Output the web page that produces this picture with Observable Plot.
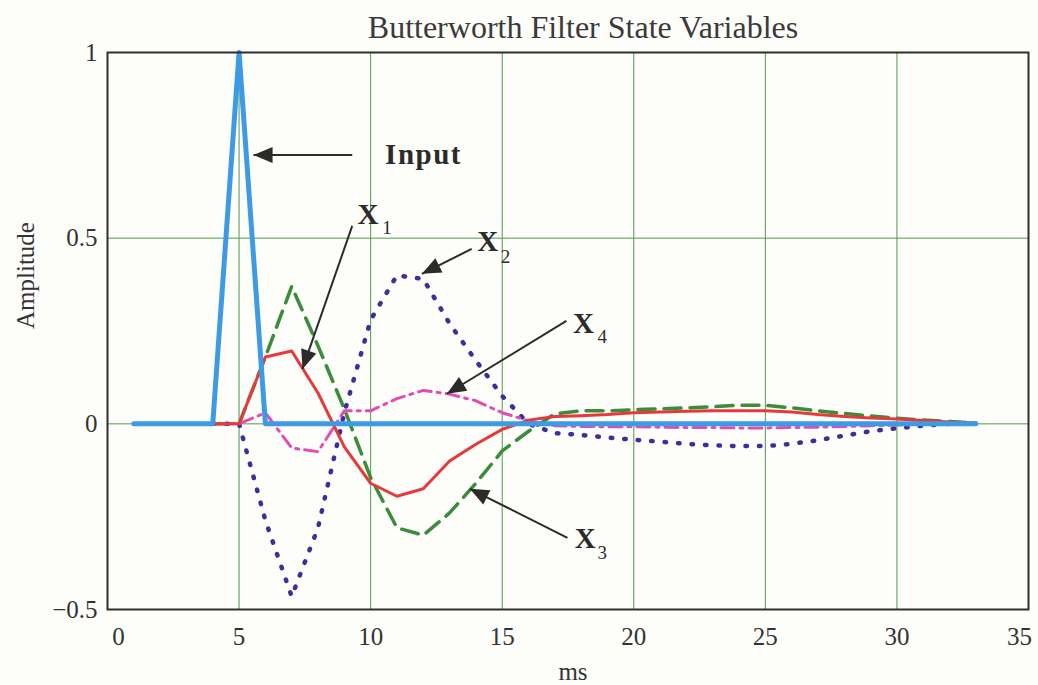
<!DOCTYPE html>
<html>
<head>
<meta charset="utf-8">
<script src="https://cdn.jsdelivr.net/npm/d3@7"></script>
<script src="https://cdn.jsdelivr.net/npm/@observablehq/plot@0.6"></script>
<style>
  body { margin: 0; background: #fdfdf9; }
</style>
</head>
<body>
<div id="chart"></div>
<script>
// Time axis (ms) for the filter states, and for the input pulse
const stateTime = [4,5,6,7,8,9,10,11,12,13,14,15,16,17,18,19,20,21,22,23,24,25,26,27,28,29,30,31,32,33];
const inputTime = [1,2,3,4,5,6,7,8,9,10,11,12,13,14,15,16,17,18,19,20,21,22,23,24,25,26,27,28,29,30,31,32,33];

// Input impulse
const inputValues = [0,0,0,0,1,0,0,0,0,0,0,0,0,0,0,0,0,0,0,0,0,0,0,0,0,0,0,0,0,0,0,0,0];

// State variables X1..X4
const x1Values = [0,0,0.18,0.196,0.083,-0.062,-0.16,-0.195,-0.175,-0.10,-0.055,-0.015,0.01,0.02,0.022,0.025,0.03,0.032,0.034,0.035,0.035,0.035,0.032,0.025,0.02,0.016,0.013,0.009,0.005,0.002];
const x2Values = [0,0,-0.26,-0.465,-0.28,0.03,0.28,0.40,0.39,0.27,0.17,0.075,0.0,-0.025,-0.03,-0.037,-0.043,-0.048,-0.054,-0.058,-0.06,-0.06,-0.054,-0.044,-0.032,-0.02,-0.012,-0.005,0,0];
const x3Values = [0,0,0.18,0.37,0.21,0.04,-0.145,-0.28,-0.30,-0.24,-0.16,-0.073,-0.02,0.027,0.035,0.035,0.038,0.04,0.043,0.046,0.05,0.05,0.043,0.035,0.028,0.021,0.015,0.01,0.006,0.002];
const x4Values = [0,0,0.03,-0.065,-0.075,0.035,0.035,0.068,0.09,0.08,0.062,0.03,0.008,-0.005,-0.007,-0.008,-0.008,-0.009,-0.01,-0.01,-0.011,-0.011,-0.01,-0.009,-0.007,-0.005,-0.003,-0.001,0,0];

// Axis ticks
const xTicksInner = [5,10,15,20,25,30];
const xTickFirst = [0];
const xTickLast = [35];
const yTicks = [-0.5,0,0.5,1];
const xGrid = [5,10,15,20,25,30];
const yGrid = [0,0.5];

// Annotation arrows: start (x1,y1) -> tip (x2,y2)
const arrowNames = ["Input","X1","X2","X4","X3"];
const arrowX1 = [9.30, 9.30, 13.84, 17.44, 17.48];
const arrowY1 = [0.724, 0.533, 0.471, 0.277, -0.307];
const arrowX2 = [5.55, 7.41, 11.95, 12.90, 13.77];
const arrowY2 = [0.724, 0.148, 0.404, 0.081, -0.175];

// Labels: main letter and subscript
const labelText = ["X","X","X","X"];
const labelX = [9.50, 14.05, 17.69, 17.76];
const labelY = [0.538, 0.466, 0.245, -0.334];
const subText = ["1","2","4","3"];
const subX = [10.44, 14.94, 18.62, 18.62];
const subY = [0.511, 0.433, 0.218, -0.363];
const inputLabel = [{s: "Input", x: 10.55, y: 0.700}];

// Layout
const W = 1038, H = 685;
const mL = 107, mR = 10, mT = 52, mB = 76;
const xDomain = [0, 35], yDomain = [-0.5, 1];
const kx = (W - mL - mR) / (xDomain[1] - xDomain[0]);
const ky = (H - mT - mB) / (yDomain[1] - yDomain[0]);

const toRows = (ts, vs) => ts.map((t, i) => ({t, v: vs[i]}));
const input = toRows(inputTime, inputValues);
const x1 = toRows(stateTime, x1Values);
const x2 = toRows(stateTime, x2Values);
const x3 = toRows(stateTime, x3Values);
const x4 = toRows(stateTime, x4Values);

const arrows = arrowNames.map((name, i) => {
  const dx = (arrowX2[i] - arrowX1[i]) * kx;
  const dy = -(arrowY2[i] - arrowY1[i]) * ky;
  return {name, x1: arrowX1[i], y1: arrowY1[i], x2: arrowX2[i], y2: arrowY2[i],
          angle: Math.atan2(dx, -dy) * 180 / Math.PI};
});
const labels = labelText.map((s, i) => ({s, x: labelX[i], y: labelY[i]}));
const subs = subText.map((s, i) => ({s, x: subX[i], y: subY[i]}));

// Filled arrowhead with its tip at the origin, pointing up
const arrowHead = {
  draw(context) {
    const L = 19, B = 8;
    context.moveTo(0, 0);
    context.lineTo(-B, L);
    context.lineTo(B, L);
    context.closePath();
  }
};

const serif = "'Liberation Serif', 'Times New Roman', serif";
const fmt = d => String(d).replace("-", "\u2212");
const ink = "#2b2b2b";

const chart = Plot.plot({
  width: W,
  height: H,
  marginLeft: mL,
  marginRight: mR,
  marginTop: mT,
  marginBottom: mB,
  style: {background: "#fdfdf9", fontFamily: serif, fontSize: "25px", color: "#333"},
  x: {domain: xDomain},
  y: {domain: yDomain},
  marks: [
    Plot.gridX(xGrid, {stroke: "#4f9a4f", strokeOpacity: 1, strokeWidth: 1}),
    Plot.gridY(yGrid, {stroke: "#4f9a4f", strokeOpacity: 1, strokeWidth: 1}),
    Plot.axisX({ticks: xTicksInner, tickSize: 0, tickPadding: 18, label: null, tickFormat: fmt, fill: "#333"}),
    Plot.axisX({ticks: xTickFirst, tickSize: 0, tickPadding: 18, label: null, tickFormat: fmt, fill: "#333", dx: 11}),
    Plot.axisX({ticks: xTickLast, tickSize: 0, tickPadding: 18, label: null, tickFormat: fmt, fill: "#333", dx: -9}),
    Plot.axisY({ticks: yTicks, tickSize: 0, tickPadding: 10, label: null, tickFormat: fmt, fill: "#333"}),
    Plot.line(x3, {x: "t", y: "v", stroke: "#3b8c3b", strokeWidth: 3.5, strokeDasharray: "17 9"}),
    Plot.line(x2, {x: "t", y: "v", stroke: "#3b2f9c", strokeWidth: 4.5, strokeDasharray: "1.5 12", strokeLinecap: "round"}),
    Plot.line(x4, {x: "t", y: "v", stroke: "#e34cb5", strokeWidth: 3, strokeDasharray: "13 6 3 6"}),
    Plot.line(x1, {x: "t", y: "v", stroke: "#e8393a", strokeWidth: 3}),
    Plot.line(input, {x: "t", y: "v", stroke: "#3d9be6", strokeWidth: 5}),
    Plot.link(arrows, {x1: "x1", y1: "y1", x2: "x2", y2: "y2", stroke: ink, strokeWidth: 2}),
    Plot.dot(arrows, {x: "x2", y: "y2", symbol: arrowHead, rotate: "angle", fill: ink, stroke: "none", r: 8}),
    Plot.text(inputLabel, {x: "x", y: "y", text: "s", textAnchor: "start", lineAnchor: "bottom",
      fontSize: 29, fontWeight: "bold", fill: ink}),
    Plot.text(labels, {x: "x", y: "y", text: "s", textAnchor: "start", lineAnchor: "bottom",
      fontSize: 29, fontWeight: "bold", fill: ink}),
    Plot.text(subs, {x: "x", y: "y", text: "s", textAnchor: "start", lineAnchor: "bottom",
      fontSize: 19, fill: ink}),
    Plot.text(["Butterworth Filter State Variables"], {frameAnchor: "top", lineAnchor: "bottom",
      dx: 15, dy: -14.5, fontSize: 32, fill: "#3a3a3a"}),
    Plot.text(["Amplitude"], {frameAnchor: "left", rotate: -90, dx: -82, dy: -2,
      fontSize: 25, fill: "#333"}),
    Plot.text(["ms"], {frameAnchor: "bottom", lineAnchor: "bottom", dx: 5, dy: 70,
      fontSize: 25, fill: "#333"}),
    Plot.frame({stroke: "#2e2e2e", strokeWidth: 2})
  ]
});

// Slight letter spacing on the "Input" label
d3.select(chart).selectAll("text").each(function() {
  if (this.textContent === "Input") this.setAttribute("letter-spacing", "1.5");
});

document.getElementById("chart").append(chart);
</script>
</body>
</html>
